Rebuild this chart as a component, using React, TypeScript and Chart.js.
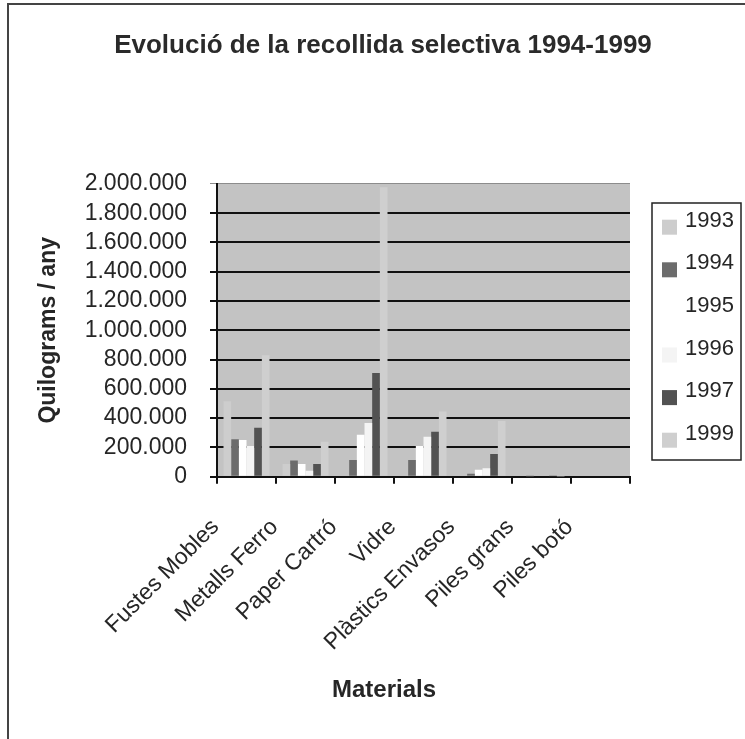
import { useEffect, useRef } from 'react';
import { Chart, registerables } from 'chart.js';

Chart.register(...registerables);

const categories = ['Fustes Mobles', 'Metalls Ferro', 'Paper Cartró', 'Vidre', 'Plàstics Envasos', 'Piles grans', 'Piles botó'];
const years = ['1993', '1994', '1995', '1996', '1997', '1999'];
const v1993 = [516000, 87000, 0, 0, 0, 0, 0];
const v1994 = [255000, 110000, 114000, 114000, 20000, 2000, 0];
const v1995 = [250000, 87000, 287000, 209000, 47000, 0, 0];
const v1996 = [209000, 40000, 366000, 273000, 58000, 0, 0];
const v1997 = [334000, 87000, 709000, 307000, 155000, 3000, 0];
const v1999 = [830000, 239000, 1977000, 446000, 380000, 2000, 0];
const seriesValues = [v1993, v1994, v1995, v1996, v1997, v1999];
const seriesColors = ['#cdcdcd', '#6c6c6c', '#ffffff', '#f4f4f4', '#525252', '#cfcfcf'];
const yMin = 0;
const yMax = 2000000;
const yStep = 200000;

const FONT = "'Liberation Sans', Arial, Helvetica, sans-serif";
const TEXT = '#262626';

const fmt = (v: number) => String(Math.round(v)).replace(/\B(?=(\d{3})+(?!\d))/g, '.');

const bgPlugin = {
  id: 'plotBg',
  beforeDraw(chart: any) {
    const { ctx, chartArea } = chart;
    ctx.save();
    ctx.fillStyle = '#c3c3c3';
    ctx.fillRect(chartArea.left, chartArea.top, chartArea.right - chartArea.left, chartArea.bottom - chartArea.top);
    ctx.restore();
  },
};

const decoPlugin = {
  id: 'deco',
  afterDraw(chart: any) {
    const { ctx } = chart;
    ctx.save();
    // frame
    ctx.strokeStyle = '#444';
    ctx.lineWidth = 2;
    ctx.beginPath();
    ctx.moveTo(8, 739);
    ctx.lineTo(8, 4);
    ctx.lineTo(745, 4);
    ctx.stroke();

    // x axis title
    ctx.fillStyle = TEXT;
    ctx.font = `bold 24px ${FONT}`;
    ctx.textAlign = 'center';
    ctx.textBaseline = 'middle';
    ctx.fillText('Materials', 384, 690);

    // legend
    ctx.lineWidth = 1.5;
    ctx.strokeStyle = '#222';
    ctx.strokeRect(652, 203, 89, 257);
    ctx.font = `22px ${FONT}`;
    ctx.textAlign = 'left';
    ctx.textBaseline = 'alphabetic';
    chart.data.datasets.forEach((ds: any, i: number) => {
      const base = 226.7 + i * 42.6;
      ctx.fillStyle = ds.backgroundColor;
      ctx.fillRect(662, base - 7, 15, 15);
      ctx.fillStyle = TEXT;
      ctx.fillText(ds.label, 685, base);
    });
    ctx.restore();
  },
};

export default function App() {
  const ref = useRef<HTMLCanvasElement | null>(null);

  useEffect(() => {
    if (!ref.current) return;
    const chart = new Chart(ref.current, {
      type: 'bar',
      data: {
        labels: categories,
        datasets: years.map((y, i) => ({
          label: y,
          data: seriesValues[i],
          backgroundColor: seriesColors[i],
          borderWidth: 0,
          categoryPercentage: 0.78,
          barPercentage: 1.0,
          xAxisID: 'x',
          yAxisID: 'y',
        })),
      },
      options: {
        responsive: false,
        animation: false,
        layout: { padding: { left: 21, right: 0, top: 0, bottom: 0 } },
        plugins: {
          legend: { display: false },
          tooltip: { enabled: false },
          title: {
            display: true,
            text: 'Evolució de la recollida selectiva 1994-1999',
            color: '#2a2a2a',
            font: { family: FONT, size: 26, weight: 'bold', lineHeight: 1.2 },
            padding: { top: 29.9, bottom: 122.8 },
          },
        },
        scales: {
          x: {
            grid: {
              display: true,
              drawOnChartArea: false,
              drawTicks: true,
              tickLength: 7,
              color: '#111',
              lineWidth: 2,
              offset: true,
            },
            border: { display: true, color: '#111', width: 2 },
            ticks: {
              autoSkip: false,
              minRotation: 45,
              maxRotation: 45,
              padding: 30,
              labelOffset: -31,
              color: TEXT,
              font: { family: FONT, size: 23 },
            },
            afterFit: (s: any) => {
              s.height = 262.3;
            },
          },
          y: {
            min: yMin,
            max: yMax,
            grid: {
              color: (c: any) => (c.tick && c.tick.value === yMax ? '#8c8c8c' : '#111'),
              lineWidth: (c: any) => (c.tick && c.tick.value === yMax ? 1 : 2),
              tickLength: 7,
              drawTicks: true,
            },
            border: { display: true, color: '#111', width: 2 },
            ticks: {
              stepSize: yStep,
              autoSkip: false,
              padding: 23,
              color: TEXT,
              font: { family: FONT, size: 23 },
              callback: (v: any) => fmt(Number(v)),
            },
            title: {
              display: true,
              text: 'Quilograms / any',
              color: TEXT,
              font: { family: FONT, size: 23, weight: 'bold' },
              padding: { top: 14, bottom: 0 },
            },
            afterFit: (s: any) => {
              s.width = 196;
            },
          },
          yR: {
            position: 'right',
            display: true,
            min: 0,
            max: 1,
            grid: { display: false, drawTicks: false },
            ticks: { display: false },
            border: { display: false },
            afterFit: (s: any) => {
              s.width = 115;
            },
          },
        },
      },
      plugins: [bgPlugin, decoPlugin],
    } as any);
    return () => chart.destroy();
  }, []);

  return (
    <div style={{ position: 'absolute', left: 0, top: 0, width: 745, height: 739, background: '#fff' }}>
      <canvas ref={ref} width={745} height={739} style={{ display: 'block' }} />
    </div>
  );
}
